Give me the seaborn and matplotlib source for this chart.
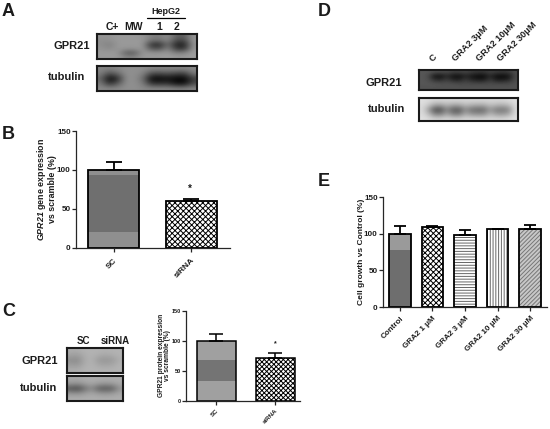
import numpy as np
import matplotlib
matplotlib.use('Agg')
import matplotlib.pyplot as plt
import seaborn as sns

# bar panels
b_labels = ['SC', 'siRNA']
b_values = [100, 60]
b_err = [10, 3]
c_labels = ['SC', 'siRNA']
c_values = [100, 72]
c_err = [11, 8]
e_labels = ['Control', 'GRA2 1 μM', 'GRA2 3 μM', 'GRA2 10 μM', 'GRA2 30 μM']
e_values = [100, 109, 98, 106, 107]
e_err = [10, 2, 7, 0.5, 5]

# blots (grey level 0-1)
a_top = [[.58, .58, .60, .60, .60, .58, .50, .48, .56, .38, .36, .58],
         [.56, .56, .60, .60, .60, .60, .46, .44, .54, .30, .28, .60],
         [.56, .50, .60, .60, .60, .60, .20, .16, .46, .14, .12, .58],
         [.58, .54, .60, .58, .58, .60, .34, .30, .54, .22, .20, .60],
         [.60, .60, .60, .36, .36, .60, .58, .58, .60, .50, .52, .62],
         [.60, .60, .60, .52, .52, .60, .60, .60, .62, .60, .60, .62]]
a_bottom = [[.52, .52, .54, .56, .56, .56, .54, .54, .54, .54, .54, .54],
            [.50, .30, .42, .56, .56, .52, .30, .28, .32, .26, .24, .48],
            [.40, .02, .16, .56, .56, .44, .03, .02, .06, .02, .01, .24],
            [.48, .18, .36, .56, .56, .50, .20, .18, .20, .06, .05, .30],
            [.54, .54, .54, .56, .56, .54, .54, .54, .54, .52, .52, .54]]
c_top = [[.68, .68, .70, .70, .70, .70, .70, .70],
         [.64, .62, .68, .70, .68, .66, .68, .70],
         [.56, .54, .66, .70, .60, .58, .60, .68],
         [.62, .60, .68, .70, .66, .64, .66, .70],
         [.68, .68, .70, .70, .70, .70, .70, .70]]
c_bottom = [[.66, .66, .68, .68, .68, .68, .68, .68],
            [.60, .58, .62, .66, .62, .60, .62, .66],
            [.32, .26, .42, .54, .36, .32, .36, .58],
            [.60, .58, .62, .66, .62, .60, .62, .66],
            [.68, .68, .68, .68, .68, .68, .68, .68]]
d_top = [[.34, .34, .32, .30, .30, .26, .26, .28, .24, .22, .22, .26, .24, .22, .24, .30],
         [.34, .30, .06, .05, .16, .06, .04, .14, .08, .03, .03, .16, .04, .03, .06, .28],
         [.34, .32, .20, .18, .26, .16, .14, .24, .16, .12, .12, .24, .12, .12, .16, .30],
         [.34, .34, .34, .32, .32, .32, .30, .30, .30, .30, .30, .30, .30, .30, .30, .32],
         [.32, .32, .32, .32, .32, .32, .32, .32, .32, .32, .32, .32, .32, .32, .32, .32]]
d_bottom = [[.88, .86, .84, .84, .84, .84, .84, .84, .84, .84, .84, .84, .84, .84, .86, .88],
            [.86, .80, .66, .64, .72, .66, .66, .74, .70, .68, .68, .76, .72, .70, .74, .86],
            [.86, .64, .32, .30, .54, .36, .34, .56, .44, .40, .42, .60, .48, .46, .52, .86],
            [.86, .76, .52, .50, .66, .50, .48, .68, .58, .56, .56, .72, .62, .60, .66, .86],
            [.88, .86, .82, .82, .84, .82, .82, .84, .84, .84, .84, .84, .84, .84, .86, .88]]

W, H = 550, 429
TXT = '#1c1c1c'

sns.set_style('ticks')
plt.rcParams['font.family'] = ['Liberation Sans', 'DejaVu Sans']
plt.rcParams['mathtext.fontset'] = 'custom'
plt.rcParams['mathtext.bfit'] = 'Liberation Sans:italic:bold'
plt.rcParams['hatch.linewidth'] = 0.7

fig = plt.figure(figsize=(W / 100, H / 100), dpi=100)


def px_axes(x0, y0, x1, y1):
    return fig.add_axes([x0 / W, 1 - y1 / H, (x1 - x0) / W, (y1 - y0) / H])


def label(x, y, s, size=8, **kw):
    kw.setdefault('ha', 'left')
    kw.setdefault('va', 'center')
    fig.text(x / W, 1 - y / H, s, fontsize=size, fontweight='bold', color=TXT, **kw)


def blot(box, data, lw=1.5):
    ax = px_axes(*box)
    ax.imshow(data, cmap='gray', vmin=0, vmax=1, aspect='auto', interpolation='bicubic')
    ax.set_xticks([])
    ax.set_yticks([])
    for s in ax.spines.values():
        s.set_linewidth(lw)
        s.set_color('#1a1a1a')
    return ax


def bars(box, xlim, labels, values, err, styles, size, xsize, lw=1.2, cap=4, ylabel=None,
         lab_size=5.5, labelpad=2, xpad=2):
    ax = px_axes(*box)
    ax.patch.set_alpha(0)
    n = len(labels)
    # moire bands first
    for i, st in enumerate(styles):
        for top, col in st.get('bands', []):
            hts = [0] * n
            hts[i] = top
            sns.barplot(x=labels, y=hts, color=col, width=0.66, saturation=1, linewidth=0, ax=ax)
    # hatched fill, its edge takes the hatch colour
    sns.barplot(x=labels, y=values, color='white', width=0.66, saturation=1, linewidth=0, ax=ax)
    for r, st in zip(ax.patches[-n:], styles):
        if 'bands' in st:
            r.set_facecolor('none')
        else:
            r.set_facecolor(st.get('face', 'white'))
            r.set_hatch(st.get('hatch'))
            r.set_edgecolor(st.get('hcol', 'black'))
    # outline
    sns.barplot(x=labels, y=values, fill=False, color='black', width=0.66, saturation=1,
                linewidth=lw, ax=ax)
    for r in ax.patches[-n:]:
        r.set_edgecolor('black')
    zeros = [0] * n
    ax.errorbar(range(n), values, yerr=[zeros, err], fmt='none', ecolor='black',
                elinewidth=lw, capsize=cap, capthick=lw, zorder=5)
    ax.set_xlim(*xlim)
    ax.set_ylim(0, 150)
    ax.set_yticks([0, 50, 100, 150])
    ax.tick_params(axis='both', length=2.8, width=0.9, pad=1, labelsize=size, labelcolor=TXT)
    ax.tick_params(axis='x', pad=xpad)
    ax.set_xticks(range(n))
    ax.set_xticklabels(labels, rotation=45, ha='right', rotation_mode='anchor',
                       fontweight='bold', fontsize=xsize)
    for t in ax.get_yticklabels():
        t.set_fontweight('bold')
    ax.set_xlabel('')
    ax.set_ylabel(ylabel, fontsize=lab_size, fontweight='bold', color=TXT, labelpad=labelpad,
                  linespacing=0.95)
    for s in ['left', 'bottom']:
        ax.spines[s].set_linewidth(0.9)
    sns.despine(ax=ax)
    return ax


# --- A ---
label(2, 12, 'A', 13)
label(106, 27, 'C+', 7.5)
label(124, 27, 'MW', 7.5)
label(159, 27, '1', 7.5, ha='center')
label(177, 27, '2', 7.5, ha='center')
label(166, 11, 'HepG2', 6.5, ha='center')
fig.add_artist(plt.Line2D([147 / W, 185 / W], [1 - 18 / H, 1 - 18 / H], color='black', lw=0.9))
label(53, 46, 'GPR21', 8)
label(48, 77, 'tubulin', 8)
blot((97, 34, 197, 59), a_top)
blot((97, 66, 197, 91), a_bottom)

# --- B ---
label(2, 134, 'B', 13)
bars((76, 131, 230, 248), (-0.484, 1.5), b_labels, b_values, b_err,
     [{'bands': [(100, '#8f8f8f'), (93, '#6f6f6f'), (20, '#8f8f8f')]},
      {'hatch': 'xxxxxx'}], 5.8, 6, lw=1.3, cap=6,
     ylabel='$\\bfit{GPR21}$ gene expression\nvs scramble (%)', lab_size=6.4, labelpad=0, xpad=3.5)
label(190, 189, '*', 7, ha='center')

# --- C ---
label(2, 312, 'C', 13)
label(83, 341, 'SC', 7, ha='center')
label(115, 341, 'siRNA', 7, ha='center')
label(22, 361, 'GPR21', 8)
label(20, 388, 'tubulin', 8)
blot((67, 348, 123, 373), c_top)
blot((67, 376, 123, 401), c_bottom)
bars((186, 311, 300, 400.7), (-0.51, 1.42), c_labels, c_values, c_err,
     [{'bands': [(100, '#a0a0a0'), (68, '#747474'), (33, '#a0a0a0')]},
      {'hatch': 'xxxxxxx'}], 4, 4.5, lw=1.1, cap=5,
     ylabel='GPR21 protein expression\nvs scramble (%)', lab_size=4.8, labelpad=0, xpad=2.5)
label(275, 344, '*', 5, ha='center')

# --- D ---
label(318, 12, 'D', 13)
for x, s in zip([434, 457, 481, 502], ['C', 'GRA2 3μM', 'GRA2 10μM', 'GRA2 30μM']):
    fig.text(x / W, 1 - 63 / H, s, fontsize=6.6, fontweight='bold', color=TXT, rotation=45,
             ha='left', va='bottom', rotation_mode='anchor')
label(366, 83, 'GPR21', 8)
label(368, 109, 'tubulin', 8)
blot((419, 70, 518, 90), d_top)
blot((419, 98, 518, 121), d_bottom)

# --- E ---
label(318, 181, 'E', 13)
bars((383, 197, 547, 307), (-0.52, 4.52), e_labels, e_values, e_err,
     [{'bands': [(100, '#9a9a9a'), (78, '#6e6e6e')]},
      {'hatch': 'xxxxxx'},
      {'hatch': '------', 'hcol': '#666666'},
      {'hatch': '||||||', 'hcol': '#666666'},
      {'face': '#c8c8c8', 'hatch': '////////', 'hcol': '#777777'}], 5.8, 5.8, lw=1.3, cap=4,
     ylabel='Cell growth vs Control (%)', lab_size=6, labelpad=-1, xpad=3)

plt.savefig('out.png', dpi=100)
